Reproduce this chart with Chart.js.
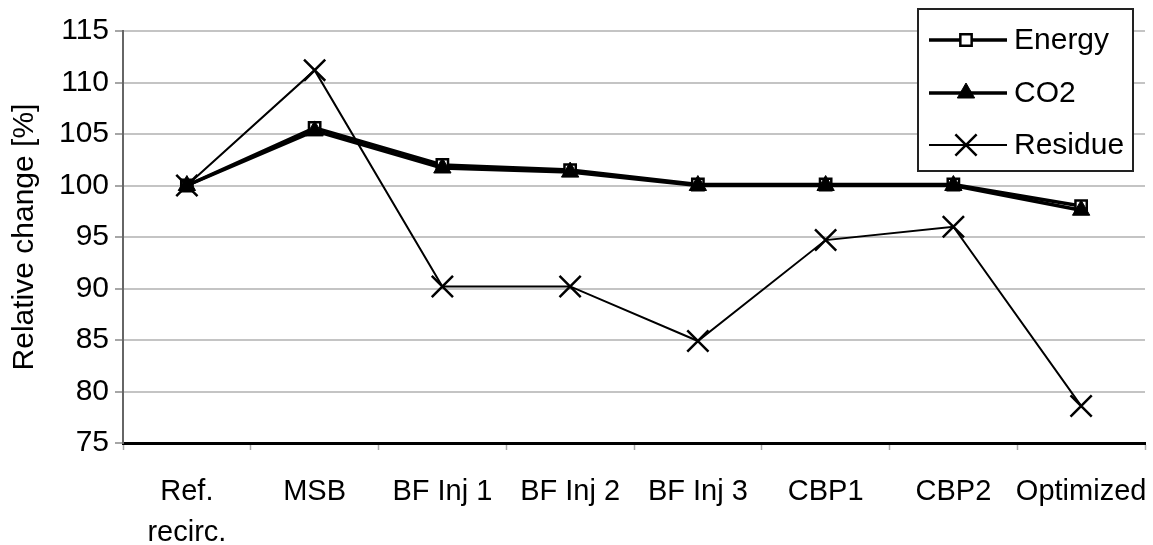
<!DOCTYPE html>
<html>
<head>
<meta charset="utf-8">
<script src="https://cdn.jsdelivr.net/npm/chart.js@4/dist/chart.umd.min.js"></script>
<style>
  html, body { margin: 0; padding: 0; background: #fff; }
  #wrap { width: 1153px; height: 545px; position: relative; }
</style>
</head>
<body>
<div id="wrap"><canvas id="c" width="1153" height="545"></canvas></div>
<script>
const categories = [['Ref.', 'recirc.'], 'MSB', 'BF Inj 1', 'BF Inj 2', 'BF Inj 3', 'CBP1', 'CBP2', 'Optimized'];
const energy  = [100, 105.6, 102.0, 101.5, 100.1, 100.1, 100.1, 98.0];
const co2     = [100, 105.3, 101.7, 101.3, 100.0, 100.0, 100.0, 97.6];
const residue = [100, 111.2, 90.2, 90.2, 84.9, 94.7, 96.0, 78.6];
const yMin = 75, yMax = 115, yStep = 5;
const yTitle = 'Relative change [%]';
const seriesNames = ['Energy', 'CO2', 'Residue'];

const FONT = 'Liberation Sans, Arial, sans-serif';

const legendPlugin = {
  id: 'customLegend',
  afterDraw(chart) {
    const ctx = chart.ctx;
    ctx.save();
    ctx.strokeStyle = '#222';
    ctx.lineWidth = 2;
    ctx.fillStyle = '#fff';
    ctx.fillRect(918, 9, 215, 162);
    ctx.strokeRect(918, 9, 215, 162);
    const rows = [40, 93, 145];
    chart.data.datasets.forEach((ds, i) => {
      const y = rows[i];
      ctx.strokeStyle = '#000';
      ctx.lineWidth = ds.borderWidth;
      ctx.beginPath();
      ctx.moveTo(929, y);
      ctx.lineTo(1007, y);
      ctx.stroke();
      ctx.fillStyle = ds.pointBackgroundColor;
      ctx.strokeStyle = ds.pointBorderColor;
      ctx.lineWidth = ds.pointBorderWidth;
      Chart.helpers.drawPoint(ctx, {
        pointStyle: ds.pointStyle,
        radius: ds.pointRadius,
        rotation: 0,
        borderWidth: ds.pointBorderWidth
      }, 966, y);
      ctx.fillStyle = '#000';
      ctx.font = '30px ' + FONT;
      ctx.textBaseline = 'middle';
      ctx.textAlign = 'left';
      ctx.fillText(ds.label, 1014, y + 1);
    });
    ctx.restore();
  }
};

new Chart(document.getElementById('c'), {
  type: 'line',
  data: {
    labels: categories,
    datasets: [
      {
        label: seriesNames[0], data: energy, order: 2,
        borderColor: '#000', borderWidth: 3.5,
        pointStyle: 'rect', pointRadius: 8, pointBorderWidth: 2.5,
        pointBackgroundColor: '#fff', pointBorderColor: '#000'
      },
      {
        label: seriesNames[1], data: co2, order: 1,
        borderColor: '#000', borderWidth: 3.5,
        pointStyle: 'triangle', pointRadius: 10, pointBorderWidth: 1,
        pointBackgroundColor: '#000', pointBorderColor: '#000'
      },
      {
        label: seriesNames[2], data: residue, order: 0,
        borderColor: '#000', borderWidth: 2,
        pointStyle: 'crossRot', pointRadius: 15, pointBorderWidth: 2.5,
        pointBackgroundColor: '#000', pointBorderColor: '#000'
      }
    ]
  },
  options: {
    responsive: false,
    animation: false,
    devicePixelRatio: 1,
    layout: { autoPadding: false, padding: { top: 31, right: 8, left: 0, bottom: 0 } },
    plugins: { legend: { display: false }, tooltip: { enabled: false } },
    elements: { line: { tension: 0 } },
    scales: {
      x: {
        type: 'category',
        offset: true,
        grid: {
          display: true, drawOnChartArea: false, drawTicks: true,
          tickLength: 7, tickColor: '#aaa', tickWidth: 1.5, offset: true
        },
        border: { display: true, color: '#000', width: 3 },
        ticks: {
          color: '#000', padding: 22, maxRotation: 0, autoSkip: false,
          font: { family: FONT, size: 29, lineHeight: 1.4 }
        },
        afterFit(s) { s.height = 102; s.paddingLeft = 0; s.paddingRight = 0; }
      },
      y: {
        min: yMin, max: yMax,
        grid: {
          color: '#c4c4c4', lineWidth: 2, drawTicks: true,
          tickLength: 8, tickColor: '#888', tickWidth: 1.5
        },
        border: { display: true, color: '#666', width: 2 },
        ticks: {
          stepSize: yStep, color: '#000', padding: 6,
          font: { family: FONT, size: 30 }
        },
        title: {
          display: true, text: yTitle, color: '#000',
          font: { family: FONT, size: 30 }, padding: { top: 7, bottom: 0 }
        },
        afterFit(s) { s.width = 123; s.paddingTop = 0; s.paddingBottom = 0; }
      }
    }
  },
  plugins: [legendPlugin]
});
</script>
</body>
</html>
